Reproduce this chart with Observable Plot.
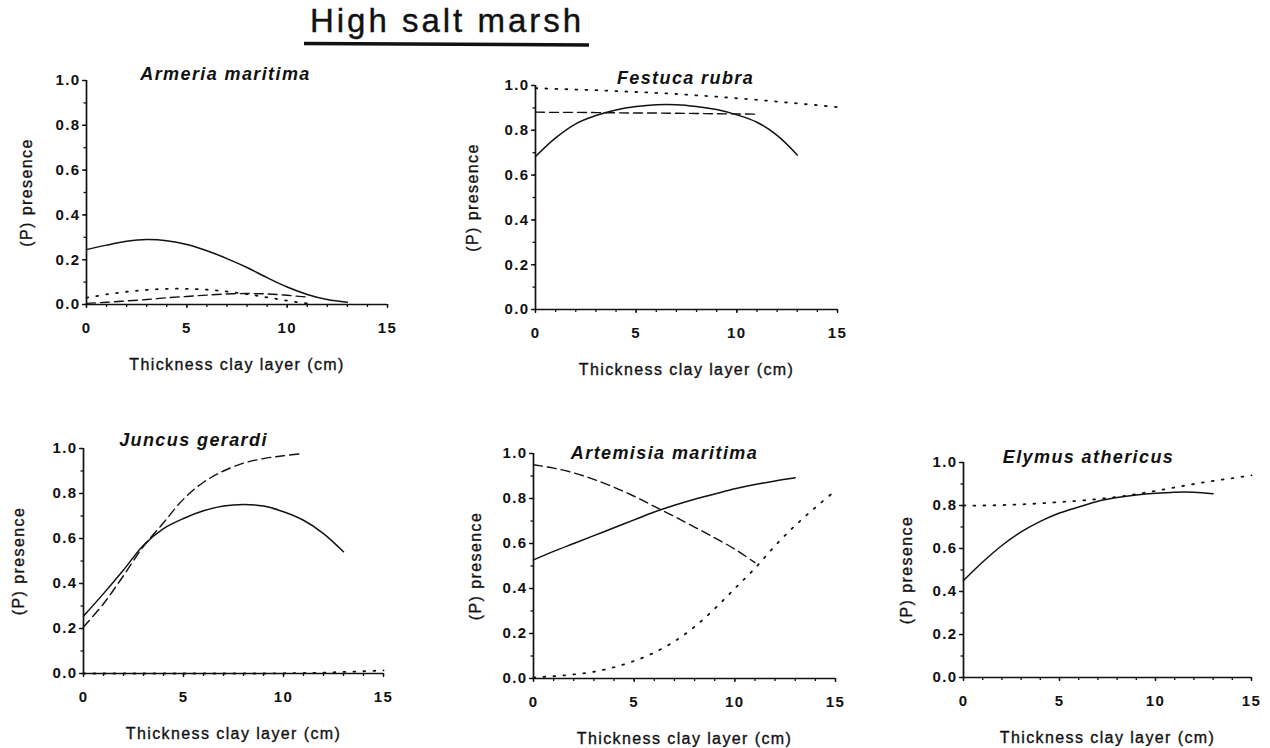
<!DOCTYPE html>
<html>
<head>
<meta charset="utf-8">
<script src="https://cdn.jsdelivr.net/npm/d3@7"></script>
<script src="https://cdn.jsdelivr.net/npm/@observablehq/plot@0.6"></script>
<style>
  body { margin: 0; background: #fff; }
  #page { position: relative; width: 1270px; height: 748px; overflow: hidden; background: #fff; font-family: "Liberation Sans", Arial, sans-serif; }
  #page svg { position: absolute; }
</style>
</head>
<body>
<div id="page">
  <svg id="head" width="1270" height="60" style="left:0;top:0">
    <text x="447" y="32" text-anchor="middle" font-size="33" letter-spacing="3" font-family="Liberation Sans, Arial, sans-serif" fill="#111" stroke="#111" stroke-width="0.4">High salt marsh</text>
    <line x1="304" y1="43.5" x2="589" y2="45" stroke="#111" stroke-width="3.5"></line>
  </svg>
</div>
<script>
// ---- data ----
const clay = [0,1,2,3,4,5,6,7,8,9,10,11,12,13,14,15];
const species = ["Armeria maritima", "Festuca rubra", "Juncus gerardi", "Artemisia maritima", "Elymus athericus"];
const xTickLabels = [0, 5, 10, 15];
const yTickLabels = [0, 0.2, 0.4, 0.6, 0.8, 1.0];
const xLabel = "Thickness clay layer (cm)";
const yLabel = "(P) presence";

const armeriaSolid  = [0.245,0.265,0.282,0.29,0.285,0.268,0.24,0.205,0.165,0.12,0.078,0.045,0.022,0.01];
const armeriaDashed = [0.005,0.01,0.016,0.022,0.03,0.036,0.042,0.047,0.049,0.047,0.041,0.033];
const armeriaDotted = [0.03,0.045,0.057,0.065,0.07,0.07,0.066,0.058,0.046,0.032,0.017,0.005];

const festucaSolid  = [0.683,0.766,0.829,0.866,0.891,0.906,0.914,0.914,0.906,0.893,0.869,0.836,0.777,0.69];
const festucaDashed = [0.881,0.88,0.88,0.879,0.878,0.877,0.877,0.876,0.875,0.874,0.873,0.872];
const festucaDotted = [0.988,0.985,0.982,0.979,0.975,0.971,0.967,0.962,0.956,0.95,0.943,0.936,0.928,0.92,0.912,0.903];

const juncusSolid  = [0.255,0.355,0.46,0.57,0.644,0.689,0.723,0.744,0.751,0.744,0.719,0.681,0.622,0.541];
const juncusDashed = [0.207,0.31,0.435,0.565,0.67,0.775,0.85,0.9,0.935,0.955,0.968,0.978];
const juncusDotted = [0,0,0,0,0,0,0,0,0,0,0.001,0.002,0.004,0.007,0.01,0.014];

const artemisiaSolid  = [0.527,0.565,0.6,0.635,0.67,0.705,0.74,0.77,0.797,0.82,0.843,0.862,0.878,0.892];
const artemisiaDashed = [0.95,0.935,0.914,0.885,0.85,0.81,0.765,0.72,0.673,0.625,0.575,0.515];
const artemisiaDotted = [0.005,0.01,0.018,0.03,0.05,0.078,0.115,0.165,0.23,0.31,0.4,0.49,0.59,0.68,0.76,0.835];

const elymusSolid  = [0.451,0.537,0.614,0.677,0.726,0.765,0.793,0.82,0.837,0.849,0.857,0.862,0.862,0.855];
const elymusDotted = [0.8,0.8,0.802,0.805,0.81,0.816,0.822,0.83,0.84,0.853,0.868,0.884,0.9,0.914,0.927,0.94];

const seriesByPanel = [
  {solid: armeriaSolid, dashed: armeriaDashed, dotted: armeriaDotted},
  {solid: festucaSolid, dashed: festucaDashed, dotted: festucaDotted},
  {solid: juncusSolid, dashed: juncusDashed, dotted: juncusDotted},
  {solid: artemisiaSolid, dashed: artemisiaDashed, dotted: artemisiaDotted},
  {solid: elymusSolid, dotted: elymusDotted}
];

// ---- layout (page pixels of each frame) ----
const layout = [
  {x0: 86,  x1: 387,  y0: 80,  y1: 304, tx: 225,  ty: 74,  yl: 60},
  {x0: 535, x1: 837,  y0: 85,  y1: 309, tx: 685,  ty: 78,  yl: 63},
  {x0: 83,  x1: 383,  y0: 448, y1: 673, tx: 193,  ty: 440, yl: 65},
  {x0: 533, x1: 835,  y0: 453, y1: 678, tx: 664,  ty: 453, yl: 58},
  {x0: 963, x1: 1251, y0: 462, y1: 677, tx: 1088, ty: 457, yl: 57}
];
const M = {left: 80, right: 20, top: 40, bottom: 75};
const styles = {
  solid:  {strokeWidth: 1.5, strokeDasharray: null},
  dashed: {strokeWidth: 1.4, strokeDasharray: "9,5"},
  dotted: {strokeWidth: 1.8, strokeDasharray: "1.8,8.2"}
};
const font = "Liberation Sans, Arial, sans-serif";
const page = document.getElementById("page");

layout.forEach((L, i) => {
  const s = seriesByPanel[i];
  const lineMarks = Object.keys(s).map(k => {
    const rows = s[k].map((v, j) => ({x: clay[j], y: v}));
    return Plot.line(rows, {x: "x", y: "y", stroke: "#111", curve: "catmull-rom",
      strokeWidth: styles[k].strokeWidth, strokeDasharray: styles[k].strokeDasharray});
  });
  const w = L.x1 - L.x0, h = L.y1 - L.y0;
  const svg = Plot.plot({
    width: w + M.left + M.right,
    height: h + M.top + M.bottom,
    marginLeft: M.left, marginRight: M.right, marginTop: M.top, marginBottom: M.bottom,
    x: {domain: [0, 15]},
    y: {domain: [0, 1]},
    style: {fontFamily: font, fontSize: "15px", color: "#111", background: "transparent", letterSpacing: "1.4px", overflow: "visible"},
    marks: [
      Plot.axisX(clay, {tickSize: 3, tickFormat: () => "", label: null, strokeWidth: 1.3}),
      Plot.axisX(xTickLabels, {tickSize: 4, tickPadding: 14, label: null, strokeWidth: 1.3, fontWeight: "bold"}),
      Plot.axisY(d3.range(0, 11).map(d => d / 10), {tickSize: 2.5, tickFormat: () => "", label: null, strokeWidth: 1.3}),
      Plot.axisY(yTickLabels, {tickSize: 4, tickPadding: 2, tickFormat: d3.format(".1f"), label: null, strokeWidth: 1.3, fontWeight: "bold"}),
      Plot.ruleX([0], {stroke: "#111", strokeWidth: 1.7}),
      Plot.ruleY([0], {stroke: "#111", strokeWidth: 1.7}),
      ...lineMarks,
      Plot.text([species[i]], {text: d => d, frameAnchor: "top-left", dx: L.tx - L.x0, dy: L.ty - L.y0,
        textAnchor: "middle", lineAnchor: "middle", fontSize: 18, fontWeight: "bold", fontStyle: "italic", fill: "#111"}),
      Plot.text([xLabel], {text: d => d, frameAnchor: "bottom", dy: 60,
        textAnchor: "middle", lineAnchor: "middle", fontSize: 16, fill: "#111", stroke: "#111", strokeWidth: 0.35}),
      Plot.text([yLabel], {text: d => d, frameAnchor: "left", dx: -L.yl, rotate: -90,
        textAnchor: "middle", lineAnchor: "middle", fontSize: 16, fill: "#111", stroke: "#111", strokeWidth: 0.35})
    ]
  });
  svg.style.left = (L.x0 - M.left) + "px";
  svg.style.top = (L.y0 - M.top) + "px";
  page.appendChild(svg);
});
</script>
</body>
</html>
